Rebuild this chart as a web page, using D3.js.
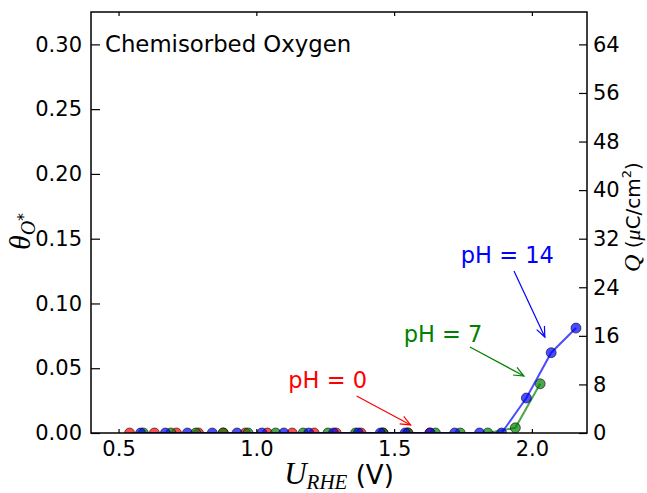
<!DOCTYPE html>
<html>
<head>
<meta charset="utf-8">
<script src="https://cdn.jsdelivr.net/npm/d3@7"></script>
<style>
  html, body { margin: 0; padding: 0; background: #fff; }
  svg { display: block; }
  text { font-family: "DejaVu Sans", sans-serif; }
  .math { font-family: "Liberation Serif", "DejaVu Serif", serif; font-style: italic; }
</style>
</head>
<body>
<svg id="chart" width="647" height="493"></svg>
<script>
// Potential (V vs RHE) and O* coverage for each electrolyte pH
const uPH0  = [0.54, 0.63, 0.71, 0.79, 0.88, 0.96, 1.04, 1.13, 1.21, 1.29, 1.38, 1.46, 1.55, 1.63];
const thPH0 = [0, 0, 0, 0, 0, 0, 0, 0, 0, 0, 0, 0, 0, 0];

const uPH7  = [0.59, 0.69, 0.78, 0.88, 0.97, 1.07, 1.17, 1.26, 1.36, 1.46, 1.55, 1.65, 1.74, 1.84, 1.94, 2.03];
const thPH7 = [0, 0, 0, 0, 0, 0, 0, 0, 0, 0, 0, 0, 0, 0, 0.004, 0.038];

const uPH14  = [0.58, 0.67, 0.75, 0.84, 0.93, 1.02, 1.10, 1.19, 1.28, 1.37, 1.45, 1.54, 1.63, 1.72, 1.81, 1.89, 1.98, 2.07, 2.16];
const thPH14 = [0, 0, 0, 0, 0, 0, 0, 0, 0, 0, 0, 0, 0, 0, 0, 0, 0.027, 0.062, 0.081];

const xTicks = [0.5, 1.0, 1.5, 2.0];
const yTicks = [0.00, 0.05, 0.10, 0.15, 0.20, 0.25, 0.30];
const qTicks = [0, 8, 16, 24, 32, 40, 48, 56, 64];

// charge per monolayer used for the right-hand axis (µC/cm² per unit coverage)
const chargePerML = 64 / 0.30;

const series = [
  { name: "pH = 0",  color: "#ff0000", u: uPH0,  th: thPH0 },
  { name: "pH = 7",  color: "#008000", u: uPH7,  th: thPH7 },
  { name: "pH = 14", color: "#0000ff", u: uPH14, th: thPH14 }
];

// label anchor, arrow tail and arrow tip, in data units
const notes = [
  { label: "pH = 0",  color: "#ff0000", text: [1.116, 0.0347], tail: [1.364, 0.0286], tip: [1.560, 0.0062] },
  { label: "pH = 7",  color: "#008000", text: [1.535, 0.0703], tail: [1.775, 0.0664], tip: [1.971, 0.0440] },
  { label: "pH = 14", color: "#0000ff", text: [1.742, 0.1312], tail: [1.935, 0.1250], tip: [2.047, 0.0741] }
];

const W = 647, H = 493;
const m = { left: 91, right: 60, top: 12, bottom: 60 };
const svg = d3.select("#chart");

const x = d3.scaleLinear().domain([0.4, 2.2]).range([m.left, W - m.right]);
const y = d3.scaleLinear().domain([0, 0.325]).range([H - m.bottom, m.top]);
const yQ = d3.scaleLinear().domain([0, 0.325 * chargePerML]).range([H - m.bottom, m.top]);

svg.append("defs").append("clipPath").attr("id", "plotClip")
  .append("rect")
  .attr("x", m.left).attr("y", m.top)
  .attr("width", W - m.left - m.right).attr("height", H - m.top - m.bottom);

// data lines and markers
const plot = svg.append("g").attr("clip-path", "url(#plotClip)");
const line = d3.line().x(d => x(d[0])).y(d => y(d[1]));
series.forEach(s => {
  const pts = s.u.map((u, i) => [u, s.th[i]]);
  plot.append("path").datum(pts)
    .attr("d", line)
    .attr("fill", "none")
    .attr("stroke", s.color)
    .attr("stroke-opacity", 0.7)
    .attr("stroke-width", 2);
  plot.append("g").selectAll("circle").data(pts).join("circle")
    .attr("cx", d => x(d[0]))
    .attr("cy", d => y(d[1]))
    .attr("r", 5)
    .attr("fill", s.color)
    .attr("fill-opacity", 0.7)
    .attr("stroke", "#000")
    .attr("stroke-opacity", 0.55)
    .attr("stroke-width", 1);
});

// axes with inward ticks
const fontTick = "21px";
function styleAxis(g) {
  g.select(".domain").remove();
  g.selectAll(".tick line").attr("stroke", "#000").attr("stroke-width", 1.2);
  g.selectAll(".tick text").attr("fill", "#000")
    .style("font-family", "'DejaVu Sans', sans-serif").style("font-size", fontTick);
}

svg.append("g").attr("transform", `translate(0,${H - m.bottom})`)
  .call(d3.axisBottom(x).tickValues(xTicks).tickFormat(d3.format(".1f"))
    .tickSizeInner(-4).tickSizeOuter(0).tickPadding(8))
  .call(styleAxis);

svg.append("g").attr("transform", `translate(0,${m.top})`)
  .call(d3.axisTop(x).tickValues(xTicks).tickFormat("")
    .tickSizeInner(-4).tickSizeOuter(0))
  .call(styleAxis);

svg.append("g").attr("transform", `translate(${m.left},0)`)
  .call(d3.axisLeft(y).tickValues(yTicks).tickFormat(d3.format(".2f"))
    .tickSizeInner(-9).tickSizeOuter(0).tickPadding(9))
  .call(styleAxis);

svg.append("g").attr("transform", `translate(${W - m.right},0)`)
  .call(d3.axisRight(yQ).tickValues(qTicks).tickFormat(d3.format("d"))
    .tickSizeInner(-8).tickSizeOuter(0).tickPadding(6))
  .call(styleAxis);

// frame
svg.append("rect")
  .attr("x", m.left).attr("y", m.top)
  .attr("width", W - m.left - m.right).attr("height", H - m.top - m.bottom)
  .attr("fill", "none").attr("stroke", "#000").attr("stroke-width", 1.5);

// panel title
svg.append("text")
  .attr("x", m.left + 14).attr("y", 52)
  .style("font-size", "22.8px").attr("fill", "#000")
  .text("Chemisorbed Oxygen");

// annotations with open arrowheads
notes.forEach(n => {
  svg.append("text")
    .attr("x", x(n.text[0])).attr("y", y(n.text[1]))
    .style("font-size", "22.5px").attr("fill", n.color)
    .text(n.label);
  const x0 = x(n.tail[0]), y0 = y(n.tail[1]);
  const x1 = x(n.tip[0]), y1 = y(n.tip[1]);
  svg.append("line")
    .attr("x1", x0).attr("y1", y0).attr("x2", x1).attr("y2", y1)
    .attr("stroke", n.color).attr("stroke-width", 1.2);
  const ang = Math.atan2(y1 - y0, x1 - x0);
  const len = 11, spread = 0.4;
  const head = [ang + Math.PI - spread, ang + Math.PI + spread].map(a => [x1 + len * Math.cos(a), y1 + len * Math.sin(a)]);
  svg.append("path")
    .attr("d", `M${head[0][0]},${head[0][1]}L${x1},${y1}L${head[1][0]},${head[1][1]}`)
    .attr("fill", "none").attr("stroke", n.color).attr("stroke-width", 1.2);
});

// axis titles
const xl = svg.append("text")
  .attr("x", (m.left + W - m.right) / 2).attr("y", 484)
  .attr("text-anchor", "middle").attr("fill", "#000")
  .style("font-size", "26px");
xl.append("tspan").attr("class", "math").style("font-size", "31px").text("U");
xl.append("tspan").attr("class", "math").style("font-size", "21px").attr("dy", 5).text("RHE");
xl.append("tspan").attr("dy", -5).text(" (V)");

const yl = svg.append("text")
  .attr("transform", `translate(30,${(m.top + H - m.bottom) / 2 + 9}) rotate(-90)`)
  .attr("text-anchor", "middle").attr("fill", "#000");
yl.append("tspan").attr("class", "math").style("font-size", "30px").text("θ");
yl.append("tspan").attr("class", "math").style("font-size", "20px").attr("dy", 5).text("O");
yl.append("tspan").style("font-family", "'DejaVu Sans', sans-serif").style("font-size", "16px").attr("dy", -6).text("*");

const ql = svg.append("text")
  .attr("transform", `translate(640,217) rotate(-90)`)
  .attr("text-anchor", "middle").attr("fill", "#000")
  .style("font-size", "20px");
ql.append("tspan").attr("class", "math").style("font-size", "24px").text("Q");
ql.append("tspan").text(" (");
ql.append("tspan").attr("class", "math").style("font-size", "22px").text("μ");
ql.append("tspan").text("C/cm");
ql.append("tspan").style("font-size", "13px").attr("dy", -9).text("2");
ql.append("tspan").attr("dy", 9).text(")");
</script>
</body>
</html>
